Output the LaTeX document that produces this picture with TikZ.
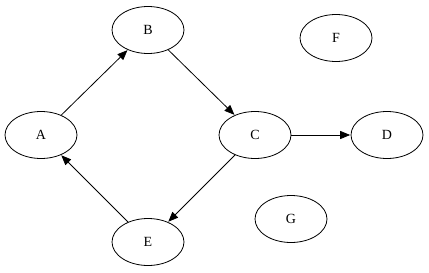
\documentclass[tikz,border=0pt]{standalone}
\usepackage{fontspec}
\setmainfont{Liberation Serif}
\usetikzlibrary{shapes.geometric,arrows.meta,positioning}

\begin{document}
\begin{tikzpicture}[
      x=1pt, y=-1pt,
      vertex/.style={ellipse, draw=black, line width=0.8pt, minimum width=72pt, minimum height=47pt, inner sep=0pt, font=\fontsize{14}{16}\selectfont},
      edge/.style={-{Triangle[length=10pt,width=8pt]}, line width=0.8pt, shorten >=0.4pt},
    ]
    \useasboundingbox (0, 0) rectangle (429, 273);
    % main cycle
    \node [vertex] (A) at (41, 135) {A};
    \node [vertex] (B) at (148, 30) {B};
    \node [vertex] (C) at (255, 135) {C};
    \node [vertex] (E) at (148, 242) {E};
    % other nodes
    \node [vertex] (D) at (387, 135) {D};
    \node [vertex] (F) at (336, 38) {F};
    \node [vertex] (G) at (291, 219) {G};
    \draw [edge] (A) -- (B);
    \draw [edge] (B) -- (C);
    \draw [edge] (C) -- (D);
    \draw [edge] (C) -- (E);
    \draw [edge] (E) -- (A);
  \end{tikzpicture}
\end{document}
